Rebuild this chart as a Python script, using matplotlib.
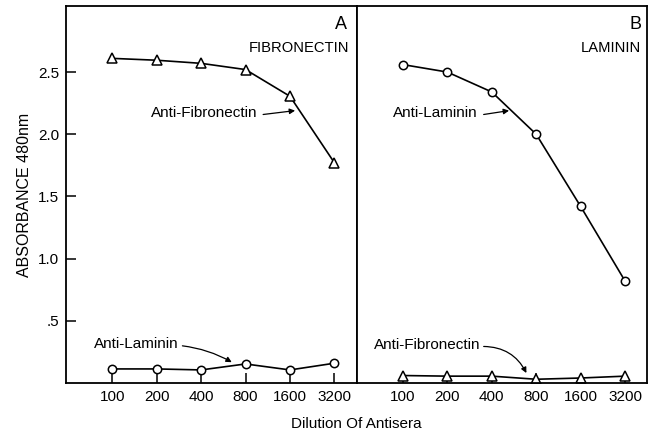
import numpy as np
import matplotlib
matplotlib.use('Agg')
import matplotlib.pyplot as plt

plt.rcParams['font.family'] = ['Liberation Sans', 'DejaVu Sans']

dilutions = ['100', '200', '400', '800', '1600', '3200']

# panel A - fibronectin coated
a_anti_fibronectin = [2.61, 2.595, 2.57, 2.52, 2.305, 1.77]
a_anti_laminin = [0.113, 0.113, 0.105, 0.153, 0.105, 0.159]

# panel B - laminin coated
b_anti_laminin = [2.56, 2.50, 2.34, 2.00, 1.42, 0.82]
b_anti_fibronectin = [0.06, 0.055, 0.055, 0.03, 0.04, 0.055]

yticks = [0.5, 1.0, 1.5, 2.0, 2.5]
yticklabels = ['.5', '1.0', '1.5', '2.0', '2.5']

fig = plt.figure(figsize=(6.53, 4.38), dpi=100)
ax1 = fig.add_axes([0.101, 0.1256, 0.4452, 0.8604])
ax2 = fig.add_axes([0.5462, 0.1256, 0.4450, 0.8604], sharey=ax1)

x = np.arange(len(dilutions))
tri = dict(marker='^', mfc='white', mec='black', ms=7, mew=1.1, color='black', lw=1.2)
circ = dict(marker='o', mfc='white', mec='black', ms=6, mew=1.1, color='black', lw=1.2)

ax1.plot(x, a_anti_fibronectin, **tri)
ax1.plot(x, a_anti_laminin, **circ)
ax2.plot(x, b_anti_laminin, **circ)
ax2.plot(x, b_anti_fibronectin, **tri)

fs = 11
for ax in (ax1, ax2):
    ax.set_xlim(-1.04, 5.5)
    ax.set_ylim(0, 3.03)
    ax.set_xticks(x)
    ax.set_xticklabels(dilutions)
    ax.tick_params(axis='both', direction='in', length=7, width=1.1, labelsize=fs, pad=5)
    for s in ax.spines.values():
        s.set_linewidth(1.3)

ax1.set_yticks(yticks)
ax1.set_yticklabels(yticklabels)
ax2.tick_params(axis='y', left=False, labelleft=False)
ax1.set_ylabel('ABSORBANCE 480nm', fontsize=11.5, labelpad=4)
fig.text(0.546, 0.022, 'Dilution Of Antisera', ha='center', fontsize=fs)

# panel labels
ax1.text(5.29, 2.88, 'A', ha='right', va='center', fontsize=13)
ax1.text(5.33, 2.69, 'FIBRONECTIN', ha='right', va='center', fontsize=10.6)
ax2.text(5.37, 2.88, 'B', ha='right', va='center', fontsize=13)
ax2.text(5.37, 2.69, 'LAMININ', ha='right', va='center', fontsize=10.6)

arr = dict(arrowstyle='-|>', color='black', lw=0.9, mutation_scale=8, shrinkA=0, shrinkB=0)

ax1.annotate('Anti-Fibronectin', xy=(4.115, 2.19), xytext=(0.88, 2.17),
             va='center', fontsize=fs,
             arrowprops=dict(arr, relpos=(1.05, 0.4)))
ax2.annotate('Anti-Laminin', xy=(2.39, 2.19), xytext=(-0.22, 2.17),
             va='center', fontsize=fs,
             arrowprops=dict(arr, relpos=(1.07, 0.4)))
ax1.annotate('Anti-Laminin', xy=(2.69, 0.167), xytext=(-0.40, 0.31),
             va='center', fontsize=fs,
             arrowprops=dict(arr, relpos=(1.04, 0.4), connectionstyle='arc3,rad=-0.1'))
ax2.annotate('Anti-Fibronectin', xy=(2.78, 0.08), xytext=(-0.65, 0.305),
             va='center', fontsize=fs,
             arrowprops=dict(arr, relpos=(1.03, 0.4), connectionstyle='arc3,rad=-0.3'))

plt.savefig('out.png', dpi=100)
